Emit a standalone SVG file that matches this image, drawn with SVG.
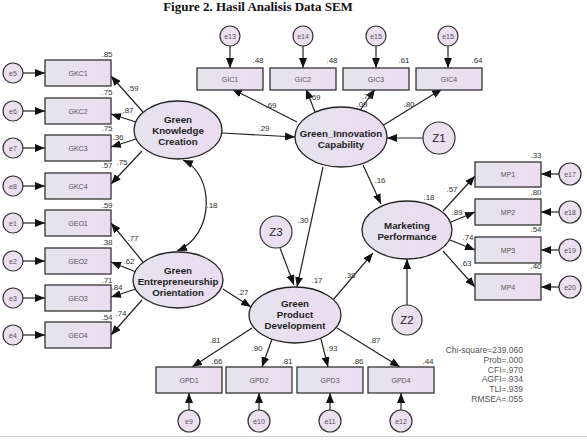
<svg xmlns="http://www.w3.org/2000/svg" width="587" height="441" viewBox="0 0 587 441">
<defs>
<linearGradient id="gb" x1="0" y1="0" x2="1" y2="0"><stop offset="0" stop-color="#e3e5ec"/><stop offset="1" stop-color="#eddcf1"/></linearGradient>
<linearGradient id="ge" x1="0" y1="0" x2="1" y2="0"><stop offset="0" stop-color="#e4e3ee"/><stop offset="1" stop-color="#ecdcf1"/></linearGradient>
<marker id="ah" markerUnits="userSpaceOnUse" markerWidth="10" markerHeight="8" refX="10" refY="4" orient="auto-start-reverse"><path d="M0,0 L10,4 L0,8 z" fill="#111"/></marker>
<style>
.box{fill:url(#gb);stroke:#333;stroke-width:1.3}
.lat{fill:url(#ge);stroke:#222;stroke-width:1.3}
.err{fill:#ece0f0;stroke:#333;stroke-width:1.2}
.c line,.c path{stroke:#222;stroke-width:1.2;fill:none;marker-end:url(#ah)}
.t{font-family:"Liberation Sans",Arial,sans-serif;font-size:7px;fill:#555;text-anchor:middle}
.lt{font-family:"Liberation Sans",Arial,sans-serif;font-size:9.7px;font-weight:bold;fill:#222;text-anchor:middle}
.n{font-family:"Liberation Sans",Arial,sans-serif;font-size:8px;fill:#333;text-anchor:middle}
.z{font-family:"Liberation Sans",Arial,sans-serif;font-size:11.5px;fill:#222;text-anchor:middle}
.fit{font-family:"Liberation Sans",Arial,sans-serif;font-size:8.5px;fill:#555;text-anchor:end}
</style>
</defs>
<rect width="587" height="441" fill="#fff"/>
<text x="258" y="11" font-family="Liberation Serif,serif" font-size="13" font-weight="bold" text-anchor="middle" fill="#111">Figure 2. Hasil Analisis Data SEM</text>
<line x1="0" y1="436.5" x2="587" y2="436.5" stroke="#ccc" stroke-width="1"/>

<g class="c" id="connectors">
<line x1="23" y1="73" x2="45" y2="73"/>
<line x1="23" y1="111" x2="45" y2="111"/>
<line x1="23" y1="148" x2="45" y2="148"/>
<line x1="23" y1="186" x2="45" y2="186"/>
<line x1="23" y1="223" x2="45" y2="223"/>
<line x1="23" y1="261" x2="45" y2="261"/>
<line x1="23" y1="298" x2="45" y2="298"/>
<line x1="23" y1="335" x2="45" y2="335"/>
<line x1="143" y1="112" x2="111" y2="76"/>
<line x1="136" y1="122" x2="111" y2="114"/>
<line x1="136" y1="139" x2="111" y2="147"/>
<line x1="142" y1="151" x2="111" y2="184"/>
<line x1="143" y1="262" x2="111" y2="223"/>
<line x1="136" y1="272" x2="111" y2="262"/>
<line x1="136" y1="289" x2="111" y2="297"/>
<line x1="142" y1="300" x2="111" y2="335"/>
<path d="M177,251 C215,235 215,175 183,160" style="marker-start:url(#ah)"/>
<line x1="230" y1="46" x2="230" y2="68"/>
<line x1="303" y1="46" x2="303" y2="68"/>
<line x1="376" y1="46" x2="376" y2="68"/>
<line x1="448" y1="46" x2="448" y2="68"/>
<line x1="297" y1="122" x2="232" y2="89"/>
<line x1="315" y1="112" x2="306" y2="89"/>
<line x1="359" y1="112" x2="375" y2="89"/>
<line x1="382" y1="126" x2="442" y2="89"/>
<line x1="222" y1="133" x2="295" y2="137"/>
<line x1="423" y1="138" x2="387" y2="138"/>
<line x1="323" y1="167" x2="297" y2="287"/>
<line x1="363" y1="165" x2="381" y2="204"/>
<line x1="280" y1="248" x2="294" y2="285"/>
<line x1="223" y1="289" x2="251" y2="307"/>
<line x1="333" y1="300" x2="373" y2="253"/>
<line x1="407" y1="305" x2="407" y2="259"/>
<line x1="443" y1="211" x2="475" y2="176"/>
<line x1="451" y1="222" x2="475" y2="212"/>
<line x1="450" y1="240" x2="475" y2="250"/>
<line x1="443" y1="251" x2="475" y2="287"/>
<line x1="559" y1="174" x2="541" y2="174"/>
<line x1="559" y1="212" x2="541" y2="212"/>
<line x1="559" y1="250" x2="541" y2="250"/>
<line x1="559" y1="287" x2="541" y2="287"/>
<line x1="252" y1="328" x2="192" y2="367"/>
<line x1="272" y1="339" x2="262" y2="367"/>
<line x1="321" y1="339" x2="328" y2="367"/>
<line x1="337" y1="328" x2="400" y2="367"/>
<line x1="189" y1="410" x2="189" y2="393"/>
<line x1="259" y1="410" x2="259" y2="393"/>
<line x1="330" y1="410" x2="330" y2="393"/>
<line x1="401" y1="410" x2="401" y2="393"/>
</g>

<g id="labels">
<text class="n" x="107" y="57">.85</text>
<text class="n" x="107" y="95">.75</text>
<text class="n" x="107" y="131">.75</text>
<text class="n" x="107" y="168">.57</text>
<text class="n" x="107" y="208">.59</text>
<text class="n" x="107" y="245">.38</text>
<text class="n" x="107" y="283">.71</text>
<text class="n" x="107" y="320">.54</text>
<text class="n" x="133" y="91">.59</text>
<text class="n" x="128" y="113">.87</text>
<text class="n" x="118" y="140">.36</text>
<text class="n" x="122" y="165">.75</text>
<text class="n" x="133" y="241">.77</text>
<text class="n" x="129" y="264">.62</text>
<text class="n" x="117" y="290">.84</text>
<text class="n" x="121" y="316">.74</text>
<text class="n" x="212" y="208">.18</text>
<text class="n" x="258" y="63">.48</text>
<text class="n" x="332" y="63">.48</text>
<text class="n" x="404" y="63">.61</text>
<text class="n" x="477" y="63">.64</text>
<text class="n" x="271" y="108">.69</text>
<text class="n" x="315" y="100">.69</text>
<text class="n" x="367" y="99">.78</text>
<text class="n" x="362" y="107">.09</text>
<text class="n" x="409" y="107">.80</text>
<text class="n" x="264" y="131">.29</text>
<text class="n" x="303" y="223">.30</text>
<text class="n" x="380" y="183">.16</text>
<text class="n" x="317" y="283">.17</text>
<text class="n" x="243" y="295">.27</text>
<text class="n" x="350" y="278">.38</text>
<text class="n" x="429" y="200">.18</text>
<text class="n" x="452" y="192">.57</text>
<text class="n" x="457" y="215">.89</text>
<text class="n" x="468" y="240">.74</text>
<text class="n" x="466" y="266">.63</text>
<text class="n" x="536" y="158">.33</text>
<text class="n" x="536" y="195">.80</text>
<text class="n" x="536" y="232">.54</text>
<text class="n" x="536" y="269">.40</text>
<text class="n" x="215" y="343">.81</text>
<text class="n" x="257" y="351">.90</text>
<text class="n" x="332" y="351">.93</text>
<text class="n" x="375" y="343">.87</text>
<text class="n" x="217" y="364">.66</text>
<text class="n" x="287" y="364">.81</text>
<text class="n" x="358" y="364">.86</text>
<text class="n" x="428" y="364">.44</text>
</g>

<g id="e5"><circle class="err" cx="13" cy="73" r="10"/><text class="t" x="13" y="75.5">e5</text></g>
<g id="e6"><circle class="err" cx="13" cy="111" r="10"/><text class="t" x="13" y="113.5">e6</text></g>
<g id="e7"><circle class="err" cx="13" cy="148" r="10"/><text class="t" x="13" y="150.5">e7</text></g>
<g id="e8"><circle class="err" cx="13" cy="186" r="10"/><text class="t" x="13" y="188.5">e8</text></g>
<g id="e1"><circle class="err" cx="13" cy="223" r="10"/><text class="t" x="13" y="225.5">e1</text></g>
<g id="e2"><circle class="err" cx="13" cy="261" r="10"/><text class="t" x="13" y="263.5">e2</text></g>
<g id="e3"><circle class="err" cx="13" cy="298" r="10"/><text class="t" x="13" y="300.5">e3</text></g>
<g id="e4"><circle class="err" cx="13" cy="335" r="10"/><text class="t" x="13" y="337.5">e4</text></g>
<g id="GKC1"><rect class="box" x="45" y="60" width="66" height="26"/><text class="t" x="78" y="75.5">GKC1</text></g>
<g id="GKC2"><rect class="box" x="45" y="98" width="66" height="26"/><text class="t" x="78" y="113.5">GKC2</text></g>
<g id="GKC3"><rect class="box" x="45" y="135" width="66" height="26"/><text class="t" x="78" y="150.5">GKC3</text></g>
<g id="GKC4"><rect class="box" x="45" y="173" width="66" height="26"/><text class="t" x="78" y="188.5">GKC4</text></g>
<g id="GEO1"><rect class="box" x="45" y="210" width="66" height="26"/><text class="t" x="78" y="225.5">GEO1</text></g>
<g id="GEO2"><rect class="box" x="45" y="248" width="66" height="26"/><text class="t" x="78" y="263.5">GEO2</text></g>
<g id="GEO3"><rect class="box" x="45" y="285" width="66" height="26"/><text class="t" x="78" y="300.5">GEO3</text></g>
<g id="GEO4"><rect class="box" x="45" y="322" width="66" height="26"/><text class="t" x="78" y="337.5">GEO4</text></g>

<g id="GKC"><ellipse class="lat" cx="178" cy="130" rx="44" ry="29"/><text class="lt" x="178" y="123">Green</text><text class="lt" x="178" y="134">Knowledge</text><text class="lt" x="178" y="145">Creation</text></g>
<g id="GEO"><ellipse class="lat" cx="178" cy="280" rx="45" ry="28"/><text class="lt" x="178" y="274">Green</text><text class="lt" x="178" y="285">Entrepreneurship</text><text class="lt" x="178" y="295.5">Orientation</text></g>
<g id="GIC"><ellipse class="lat" cx="341" cy="137" rx="46" ry="30"/><text class="lt" x="341" y="137">Green_Innovation</text><text class="lt" x="341" y="148">Capability</text></g>
<g id="GPD"><ellipse class="lat" cx="295" cy="315" rx="46" ry="28"/><text class="lt" x="295" y="307">Green</text><text class="lt" x="295" y="318">Product</text><text class="lt" x="295" y="329">Development</text></g>
<g id="MP"><ellipse class="lat" cx="407" cy="230" rx="45" ry="29"/><text class="lt" x="407" y="229">Marketing</text><text class="lt" x="407" y="240">Performance</text></g>
<g id="Z1"><circle class="err" cx="439" cy="138" r="16"/><text class="z" x="439" y="142">Z1</text></g>
<g id="Z3"><circle class="err" cx="276" cy="232" r="16"/><text class="z" x="276" y="236">Z3</text></g>
<g id="Z2"><circle class="err" cx="407" cy="320" r="15"/><text class="z" x="407" y="324">Z2</text></g>

<g id="e13"><circle class="err" cx="230" cy="36" r="10"/><text class="t" x="230" y="38.5">e13</text></g>
<g id="e14"><circle class="err" cx="303" cy="36" r="10"/><text class="t" x="303" y="38.5">e14</text></g>
<g id="e15"><circle class="err" cx="376" cy="36" r="10"/><text class="t" x="376" y="38.5">e15</text></g>
<g id="e16"><circle class="err" cx="448" cy="36" r="10"/><text class="t" x="448" y="38.5">e15</text></g>
<g id="GIC1"><rect class="box" x="197" y="68" width="66" height="22"/><text class="t" x="230" y="81.5">GIC1</text></g>
<g id="GIC2"><rect class="box" x="270" y="68" width="66" height="22"/><text class="t" x="303" y="81.5">GIC2</text></g>
<g id="GIC3"><rect class="box" x="343" y="68" width="66" height="22"/><text class="t" x="376" y="81.5">GIC3</text></g>
<g id="GIC4"><rect class="box" x="416" y="68" width="66" height="22"/><text class="t" x="449" y="81.5">GIC4</text></g>

<g id="MP1"><rect class="box" x="475" y="162" width="66" height="25"/><text class="t" x="508" y="177">MP1</text></g>
<g id="MP2"><rect class="box" x="475" y="199" width="66" height="26"/><text class="t" x="508" y="214.5">MP2</text></g>
<g id="MP3"><rect class="box" x="475" y="237" width="66" height="26"/><text class="t" x="508" y="252.5">MP3</text></g>
<g id="MP4"><rect class="box" x="475" y="274" width="66" height="26"/><text class="t" x="508" y="289.5">MP4</text></g>
<g id="e17"><circle class="err" cx="570" cy="174" r="11"/><text class="t" x="570" y="176.5">e17</text></g>
<g id="e18"><circle class="err" cx="570" cy="212" r="11"/><text class="t" x="570" y="214.5">e18</text></g>
<g id="e19"><circle class="err" cx="570" cy="250" r="11"/><text class="t" x="570" y="252.5">e19</text></g>
<g id="e20"><circle class="err" cx="570" cy="287" r="11"/><text class="t" x="570" y="289.5">e20</text></g>

<g id="GPD1"><rect class="box" x="156" y="367" width="66" height="26"/><text class="t" x="189" y="382.5">GPD1</text></g>
<g id="GPD2"><rect class="box" x="226" y="367" width="66" height="26"/><text class="t" x="259" y="382.5">GPD2</text></g>
<g id="GPD3"><rect class="box" x="297" y="367" width="66" height="26"/><text class="t" x="330" y="382.5">GPD3</text></g>
<g id="GPD4"><rect class="box" x="368" y="367" width="66" height="26"/><text class="t" x="401" y="382.5">GPD4</text></g>
<g id="e9"><circle class="err" cx="189" cy="421" r="11"/><text class="t" x="189" y="423.5">e9</text></g>
<g id="e10"><circle class="err" cx="259" cy="421" r="11"/><text class="t" x="259" y="423.5">e10</text></g>
<g id="e11"><circle class="err" cx="330" cy="421" r="11"/><text class="t" x="330" y="423.5">e11</text></g>
<g id="e12"><circle class="err" cx="401" cy="421" r="11"/><text class="t" x="401" y="423.5">e12</text></g>

<g id="fit">
<text class="fit" x="523" y="353">Chi-square=239.060</text>
<text class="fit" x="523" y="363">Prob=.000</text>
<text class="fit" x="523" y="373">CFI=.970</text>
<text class="fit" x="523" y="382">AGFI=.934</text>
<text class="fit" x="523" y="392">TLI=.939</text>
<text class="fit" x="523" y="402">RMSEA=.055</text>
</g>
</svg>
